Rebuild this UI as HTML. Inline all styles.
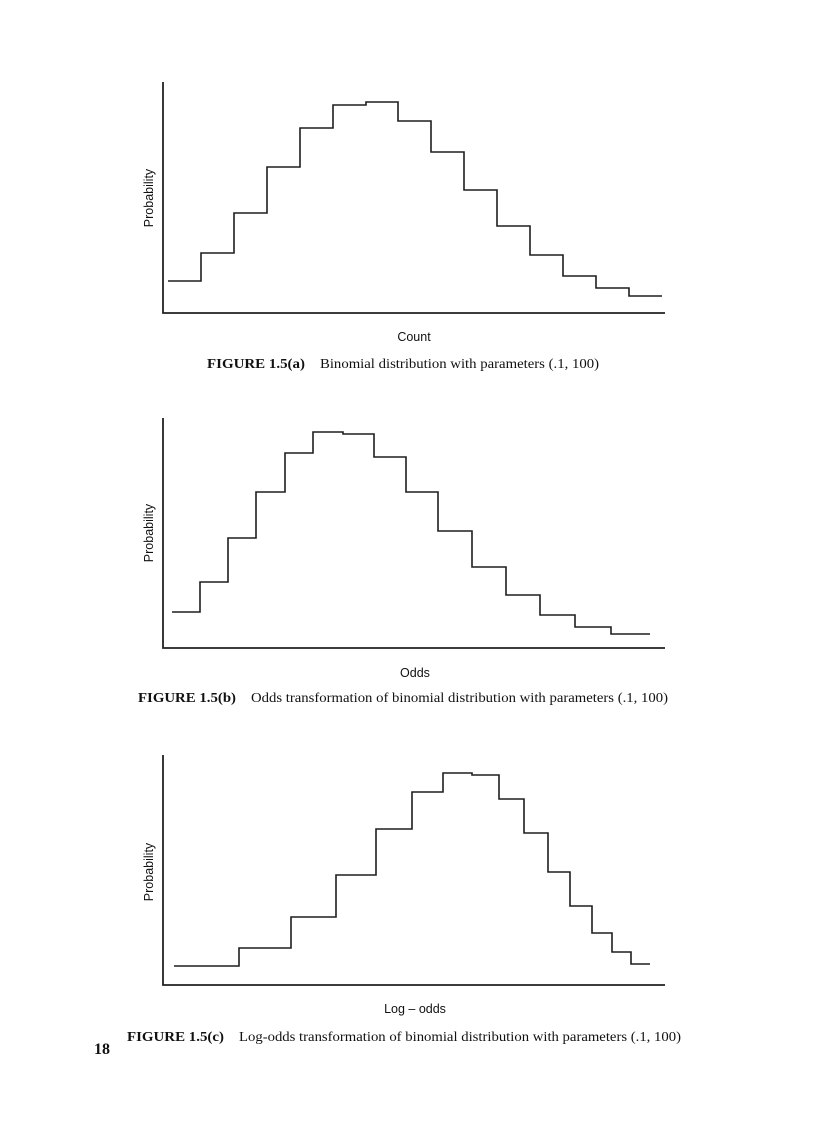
<!DOCTYPE html>
<html><head><meta charset="utf-8"><style>
html,body{margin:0;padding:0;background:#fff;}
svg{display:block;}
.ax{stroke:#222;stroke-width:1.8;fill:none;}
.st{stroke:#1e1e1e;stroke-width:1.6;fill:none;}
.lab{font-family:"Liberation Sans",sans-serif;font-size:12.5px;fill:#111;}
.cap{font-family:"Liberation Serif",serif;font-size:14px;fill:#111;}
.b{font-weight:bold;}
</style></head><body>
<svg width="816" height="1123" viewBox="0 0 816 1123">
<!-- Chart a -->
<path class="ax" d="M163,82 V313 H665"/>
<path class="st" d="M168,281 H201 V253 H234 V213 H267 V167 H300 V128 H333 V105 H366 V102 H398 V121 H431 V152 H464 V190 H497 V226 H530 V255 H563 V276 H596 V288 H629 V296 H662"/>
<text class="lab" transform="translate(153,198) rotate(-90)" text-anchor="middle">Probability</text>
<text class="lab" x="414" y="341" text-anchor="middle">Count</text>
<text class="cap b" x="207" y="368" textLength="98" lengthAdjust="spacingAndGlyphs">FIGURE 1.5(a)</text>
<text class="cap" x="320" y="368" textLength="279" lengthAdjust="spacingAndGlyphs">Binomial distribution with parameters (.1, 100)</text>

<!-- Chart b -->
<path class="ax" d="M163,418 V648 H665"/>
<path class="st" d="M172,612 H200 V582 H228 V538 H256 V492 H285 V453 H313 V432 H343 V434 H374 V457 H406 V492 H438 V531 H472 V567 H506 V595 H540 V615 H575 V627 H611 V634 H650"/>
<text class="lab" transform="translate(153,533) rotate(-90)" text-anchor="middle">Probability</text>
<text class="lab" x="415" y="677" text-anchor="middle">Odds</text>
<text class="cap b" x="138" y="702" textLength="98" lengthAdjust="spacingAndGlyphs">FIGURE 1.5(b)</text>
<text class="cap" x="251" y="702" textLength="417" lengthAdjust="spacingAndGlyphs">Odds transformation of binomial distribution with parameters (.1, 100)</text>

<!-- Chart c -->
<path class="ax" d="M163,755 V985 H665"/>
<path class="st" d="M174,966 H239 V948 H291 V917 H336 V875 H376 V829 H412 V792 H443 V773 H472 V775 H499 V799 H524 V833 H548 V872 H570 V906 H592 V933 H612 V952 H631 V964 H650"/>
<text class="lab" transform="translate(153,872) rotate(-90)" text-anchor="middle">Probability</text>
<text class="lab" x="415" y="1013" text-anchor="middle">Log – odds</text>
<text class="cap b" x="127" y="1041" textLength="97" lengthAdjust="spacingAndGlyphs">FIGURE 1.5(c)</text>
<text class="cap" x="239" y="1041" textLength="442" lengthAdjust="spacingAndGlyphs">Log-odds transformation of binomial distribution with parameters (.1, 100)</text>
<text class="cap b" x="94" y="1054" style="font-size:16px">18</text>
</svg>
</body></html>
